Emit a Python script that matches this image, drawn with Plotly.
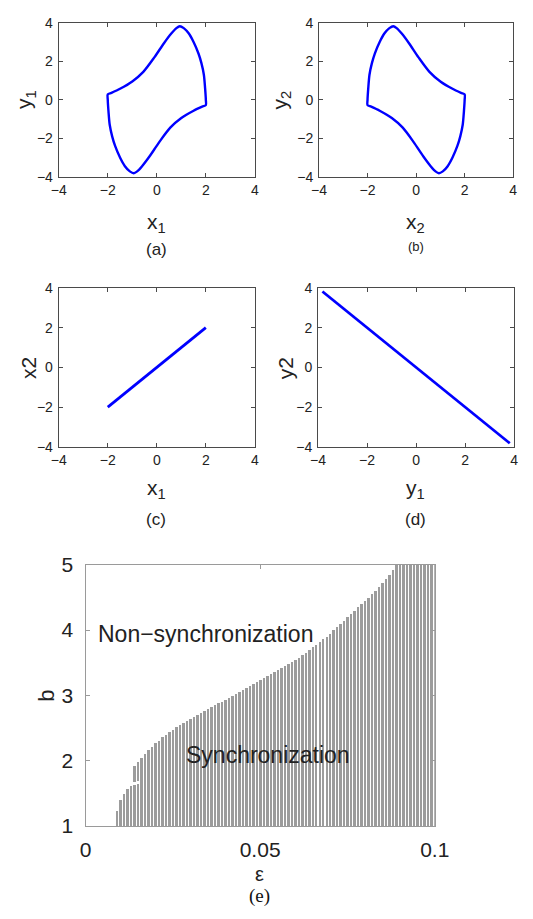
import plotly.graph_objects as go

W, H = 533, 919

# ---- limit cycle of oscillator 1 (x1, y1) ----
x1 = [-2.0, -1.85, -1.5, -1.0, -0.55, -0.1, 0.3, 0.6, 0.8, 0.94, 1.1, 1.3, 1.5, 1.7, 1.82, 1.92, 1.97, 2.0,
      2.0, 1.85, 1.5, 1.0, 0.55, 0.1, -0.3, -0.6, -0.8, -0.94, -1.1, -1.3, -1.5, -1.7, -1.82, -1.92, -1.97, -2.0, -2.0]
y1 = [0.28, 0.36, 0.57, 0.95, 1.45, 2.2, 2.95, 3.45, 3.72, 3.82, 3.72, 3.45, 3.0, 2.4, 1.9, 1.3, 0.6, 0.0,
      -0.28, -0.36, -0.57, -0.95, -1.45, -2.2, -2.95, -3.45, -3.72, -3.82, -3.72, -3.45, -3.0, -2.4, -1.9, -1.3, -0.6, 0.0, 0.28]

# ---- limit cycle of oscillator 2 (x2, y2) ----
x2 = [-2.0, -1.85, -1.5, -1.0, -0.55, -0.1, 0.3, 0.6, 0.8, 0.94, 1.1, 1.3, 1.5, 1.7, 1.82, 1.92, 1.97, 2.0,
      2.0, 1.85, 1.5, 1.0, 0.55, 0.1, -0.3, -0.6, -0.8, -0.94, -1.1, -1.3, -1.5, -1.7, -1.82, -1.92, -1.97, -2.0, -2.0]
y2 = [-0.28, -0.36, -0.57, -0.95, -1.45, -2.2, -2.95, -3.45, -3.72, -3.82, -3.72, -3.45, -3.0, -2.4, -1.9, -1.3, -0.6, 0.0,
      0.28, 0.36, 0.57, 0.95, 1.45, 2.2, 2.95, 3.45, 3.72, 3.82, 3.72, 3.45, 3.0, 2.4, 1.9, 1.3, 0.6, 0.0, -0.28]

# ---- synchronization manifolds ----
sync_x1 = [-2.0, 2.0]
sync_x2 = [-2.0, 2.0]
anti_y1 = [-3.82, 3.82]
anti_y2 = [3.82, -3.82]

# ---- synchronization region in the (epsilon, b) plane ----
eps = [0.009, 0.010, 0.011, 0.012, 0.013, 0.014, 0.015, 0.016, 0.017, 0.018, 0.019, 0.020,
       0.021, 0.022, 0.023, 0.024, 0.025, 0.026, 0.027, 0.028, 0.029, 0.030, 0.031, 0.032,
       0.033, 0.034, 0.035, 0.036, 0.037, 0.038, 0.039, 0.040, 0.041, 0.042, 0.043, 0.044,
       0.045, 0.046, 0.047, 0.048, 0.049, 0.050, 0.051, 0.052, 0.053, 0.054, 0.055, 0.056,
       0.057, 0.058, 0.059, 0.060, 0.061, 0.062, 0.063, 0.064, 0.065, 0.066, 0.067, 0.068,
       0.069, 0.070, 0.071, 0.072, 0.073, 0.074, 0.075, 0.076, 0.077, 0.078, 0.079, 0.080,
       0.081, 0.082, 0.083, 0.084, 0.085, 0.086, 0.087, 0.088, 0.089, 0.090, 0.091, 0.092,
       0.093, 0.094, 0.095, 0.096, 0.097, 0.098, 0.099, 0.100]
b_top = [1.24, 1.40, 1.50, 1.57, 1.61, 1.93, 1.99, 2.05, 2.11, 2.17, 2.22, 2.27,
         2.31, 2.36, 2.40, 2.44, 2.48, 2.52, 2.55, 2.58, 2.61, 2.64, 2.67, 2.70,
         2.73, 2.76, 2.79, 2.82, 2.85, 2.88, 2.91, 2.94, 2.97, 3.00, 3.03, 3.06,
         3.09, 3.12, 3.15, 3.18, 3.21, 3.24, 3.27, 3.30, 3.33, 3.36, 3.39, 3.42,
         3.45, 3.48, 3.51, 3.55, 3.58, 3.62, 3.66, 3.70, 3.74, 3.78, 3.82, 3.86,
         3.90, 3.95, 4.00, 4.05, 4.10, 4.15, 4.20, 4.25, 4.30, 4.35, 4.40, 4.45,
         4.50, 4.55, 4.60, 4.66, 4.72, 4.78, 4.85, 4.92, 5.00, 5.00, 5.00, 5.00,
         5.00, 5.00, 5.00, 5.00, 5.00, 5.00, 5.00, 5.00]
b_min = 1.0
notch_eps = [0.014, 0.015]
notch_lo = [1.63, 1.64]
notch_hi = [1.68, 1.69]

SANS = "Liberation Sans, Arial, Helvetica, sans-serif"
SERIF = "Liberation Serif, Times New Roman, serif"
BLUE = "#0000ff"


def px(x):
    return x / W


def py(y):
    return 1 - y / H


fig = go.Figure()

# phase portraits
fig.add_trace(go.Scatter(x=x1, y=y1, mode="lines", line=dict(color=BLUE, width=2.4, shape="spline", smoothing=0.8),
                         xaxis="x", yaxis="y", showlegend=False))
fig.add_trace(go.Scatter(x=x2, y=y2, mode="lines", line=dict(color=BLUE, width=2.4, shape="spline", smoothing=0.8),
                         xaxis="x2", yaxis="y2", showlegend=False))
fig.add_trace(go.Scatter(x=sync_x1, y=sync_x2, mode="lines", line=dict(color=BLUE, width=2.8),
                         xaxis="x3", yaxis="y3", showlegend=False))
fig.add_trace(go.Scatter(x=anti_y1, y=anti_y2, mode="lines", line=dict(color=BLUE, width=2.8),
                         xaxis="x4", yaxis="y4", showlegend=False))

# stability region bars
fig.add_trace(go.Bar(x=eps, y=[t - b_min for t in b_top], base=b_min, width=0.00056,
                     marker=dict(color="#9c9c9c", line=dict(width=0)),
                     xaxis="x5", yaxis="y5", showlegend=False))
fig.add_trace(go.Bar(x=notch_eps, y=[h - l for l, h in zip(notch_lo, notch_hi)], base=notch_lo, width=0.0009,
                     marker=dict(color="white", line=dict(width=0)),
                     xaxis="x5", yaxis="y5", showlegend=False))

# panel boxes in pixels: (left, right, top, bottom)
boxes = {
    1: (53, 258, 11, 169),
    2: (325, 528, 11, 169),
    3: (53, 258, 283, 446),
    4: (324, 529, 283, 446),
    5: (81, 446, 567, 835),
}

small_axis = dict(range=[-4, 4], tickvals=[-4, -2, 0, 2, 4], showgrid=False, zeroline=False,
                  showline=True, linecolor="#4a4a4a", linewidth=1, mirror="allticks",
                  ticks="inside", ticklen=4, tickcolor="#4a4a4a",
                  tickfont=dict(family=SANS, size=14, color="#222222"))

layout = dict(width=W, height=H, margin=dict(l=0, r=0, t=0, b=0),
              paper_bgcolor="white", plot_bgcolor="white", barmode="overlay", bargap=0)

for i in range(1, 5):
    l, r, t, b = boxes[i]
    sfx = "" if i == 1 else str(i)
    layout["xaxis" + sfx] = dict(small_axis, domain=[px(l), px(r)], anchor="y" + sfx, ticklabelstandoff=0)
    layout["yaxis" + sfx] = dict(small_axis, domain=[py(b), py(t)], anchor="x" + sfx, ticklabelstandoff=2)

l, r, t, b = boxes[5]
big_font = dict(family=SANS, size=21, color="#222222")
layout["xaxis5"] = dict(domain=[px(l), px(r)], anchor="y5", range=[0, 0.1], tickvals=[0, 0.05, 0.1],
                        ticktext=["0", "0.05", "0.1"], showgrid=False, zeroline=False,
                        showline=True, linecolor="#9a9a9a", linewidth=1.2, mirror="allticks",
                        ticks="inside", ticklen=4, tickcolor="#9a9a9a", tickfont=big_font,
                        ticklabelstandoff=5)
layout["yaxis5"] = dict(domain=[py(b), py(t)], anchor="x5", range=[1, 5], tickvals=[1, 2, 3, 4, 5],
                        showgrid=False, zeroline=False,
                        showline=True, linecolor="#9a9a9a", linewidth=1.2, mirror="allticks",
                        ticks="inside", ticklen=4, tickcolor="#9a9a9a", tickfont=big_font,
                        ticklabelstandoff=7)

ann = []


def label(text, x, y, size, family=SANS, angle=0, color="#222222"):
    ann.append(dict(text=text, x=px(x), y=py(y), xref="paper", yref="paper", showarrow=False,
                    xanchor="center", yanchor="middle", textangle=angle,
                    font=dict(family=family, size=size, color=color)))


# axis titles and panel captions
label("x<sub>1</sub>", 155, 216, 21)
label("(a)", 155, 244, 17)
label("y<sub>1</sub>", 18, 90, 21, angle=-90)

label("x<sub>2</sub>", 426, 216, 21)
label("(b)", 426, 241, 13)
label("y<sub>2</sub>", 285, 90, 21, angle=-90)

label("x<sub>1</sub>", 155, 489, 21)
label("(c)", 155, 521, 17)
label("x2", 22, 365, 21, angle=-90)

label("y<sub>1</sub>", 426, 489, 21)
label("(d)", 426, 521, 17)
label("y2", 290, 365, 21, angle=-90)

label("ε", 263, 884, 20)
label("(e)", 263, 907, 19, family=SERIF, color="#111111")
label("b", 40, 701, 22, angle=-90)
label("Non\u2212synchronization", 206, 638, 23)
label("Synchronization", 272, 762, 23)

layout["annotations"] = ann
fig.update_layout(**layout)

fig.write_html("out.html")
